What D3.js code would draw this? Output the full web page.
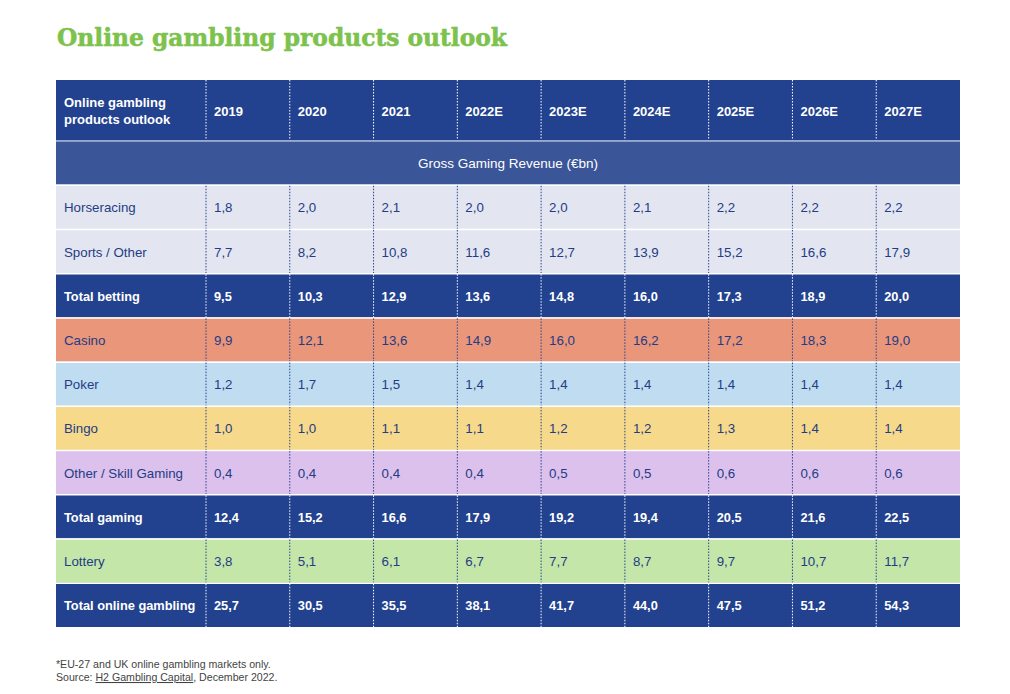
<!DOCTYPE html>
<html><head><meta charset="utf-8">
<script src="https://cdn.jsdelivr.net/npm/d3@7"></script>
<style>
html,body{margin:0;padding:0;background:#fff;}
svg{display:block;}
</style></head>
<body>
<svg id="chart" width="1010" height="694"></svg>
<script>
const years = ["2019","2020","2021","2022E","2023E","2024E","2025E","2026E","2027E"];
const rowLabels = ["Horseracing","Sports / Other","Total betting","Casino","Poker","Bingo","Other / Skill Gaming","Total gaming","Lottery","Total online gambling"];
const horseracing = [1.8,2.0,2.1,2.0,2.0,2.1,2.2,2.2,2.2];
const sportsOther = [7.7,8.2,10.8,11.6,12.7,13.9,15.2,16.6,17.9];
const totalBetting = [9.5,10.3,12.9,13.6,14.8,16.0,17.3,18.9,20.0];
const casino = [9.9,12.1,13.6,14.9,16.0,16.2,17.2,18.3,19.0];
const poker = [1.2,1.7,1.5,1.4,1.4,1.4,1.4,1.4,1.4];
const bingo = [1.0,1.0,1.1,1.1,1.2,1.2,1.3,1.4,1.4];
const otherSkill = [0.4,0.4,0.4,0.4,0.5,0.5,0.6,0.6,0.6];
const totalGaming = [12.4,15.2,16.6,17.9,19.2,19.4,20.5,21.6,22.5];
const lottery = [3.8,5.1,6.1,6.7,7.7,8.7,9.7,10.7,11.7];
const totalOnline = [25.7,30.5,35.5,38.1,41.7,44.0,47.5,51.2,54.3];
const seriesValues = [horseracing,sportsOther,totalBetting,casino,poker,bingo,otherSkill,totalGaming,lottery,totalOnline];
const rowFills = ["#e3e6f0","#e3e6f0","#22418e","#e9967a","#bfdcf1","#f6d98b","#dcc1ed","#22418e","#c4e6a9","#22418e"];
const rowBold = [false,false,true,false,false,false,false,true,false,true];

const svg = d3.select("#chart");
const font = "'Liberation Sans', Arial, sans-serif";
const dark = "#22418e";
const textDark = "#233c85";

// title
const title = svg.append("text").attr("x",57).attr("y",46)
  .attr("font-family","'DejaVu Serif', serif").attr("font-weight","bold")
  .attr("font-size",25).attr("fill","#7dc24c").attr("stroke","#7dc24c").attr("stroke-width",0.6)
  .text("Online gambling products outlook");
title.attr("textLength",450).attr("lengthAdjust","spacingAndGlyphs");

const left = 56, right = 960, firstColRight = 206;
const x = d3.scaleBand().domain(years).range([firstColRight, right]);
const headerTop = 80, headerBottom = 140.5;
const allRows = ["gross"].concat(rowLabels);
const y = d3.scaleBand().domain(allRows).range([headerBottom, 627]);

// header
svg.append("rect").attr("x",left).attr("y",headerTop).attr("width",right-left).attr("height",headerBottom-headerTop).attr("fill",dark);
const ht = svg.append("text").attr("font-family",font).attr("font-weight","bold").attr("font-size",13).attr("fill","#fff");
ht.append("tspan").attr("x",64).attr("y",107).text("Online gambling");
ht.append("tspan").attr("x",64).attr("y",124).text("products outlook");
svg.selectAll(".yh").data(years).join("text")
  .attr("x",d=>x(d)+8).attr("y",115.5)
  .attr("font-family",font).attr("font-weight","bold").attr("font-size",13).attr("fill","#fff")
  .text(d=>d);
svg.selectAll(".hl").data(years).join("line")
  .attr("x1",d=>x(d)).attr("x2",d=>x(d)).attr("y1",headerTop).attr("y2",headerBottom)
  .attr("stroke","#fff").attr("stroke-width",1).attr("stroke-dasharray","1.5,1.5");

// gross row
svg.append("rect").attr("x",left).attr("y",y("gross")).attr("width",right-left).attr("height",y.bandwidth()).attr("fill","#3a5698");
svg.append("line").attr("x1",left).attr("x2",right).attr("y1",headerBottom+0.5).attr("y2",headerBottom+0.5).attr("stroke","#a9b7d8").attr("stroke-width",1.5);
svg.append("text").attr("x",(left+right)/2).attr("y",y("gross")+y.bandwidth()/2+5)
  .attr("text-anchor","middle").attr("font-family",font).attr("font-size",13.5).attr("fill","#fff")
  .text("Gross Gaming Revenue (€bn)");

const fmt = v => v.toFixed(1).replace(".",",");

rowLabels.forEach((lab,i)=>{
  const ry = y(lab), h = y.bandwidth();
  const isDark = rowFills[i] === dark;
  const tc = isDark ? "#fff" : textDark;
  const fs = rowBold[i] ? 12.8 : 13.3;
  const g = svg.append("g");
  g.append("rect").attr("x",left).attr("y",ry).attr("width",right-left).attr("height",h).attr("fill",rowFills[i]);
  g.append("line").attr("x1",left).attr("x2",right).attr("y1",ry+0.5).attr("y2",ry+0.5).attr("stroke","#fff").attr("stroke-width",1.5);
  g.append("text").attr("x",64).attr("y",ry+h/2+5.5)
    .attr("font-family",font).attr("font-weight",rowBold[i]?"bold":"normal").attr("font-size",fs).attr("fill",tc).text(lab);
  g.selectAll(".v").data(seriesValues[i]).join("text")
    .attr("x",(d,j)=>x(years[j])+8).attr("y",ry+h/2+5.5)
    .attr("font-family",font).attr("font-weight",rowBold[i]?"bold":"normal").attr("font-size",fs).attr("fill",tc)
    .text(d=>fmt(d));
  g.selectAll(".dl").data(years).join("line")
    .attr("x1",d=>x(d)).attr("x2",d=>x(d)).attr("y1",ry+1).attr("y2",ry+h)
    .attr("stroke",isDark?"#fff":"#2a4590").attr("stroke-width",1).attr("stroke-dasharray","1.5,1.5");
});

// footnote
const fn = svg.append("text").attr("font-family",font).attr("font-size",10.6).attr("fill","#444");
fn.append("tspan").attr("x",56).attr("y",668).text("*EU-27 and UK online gambling markets only.");
const f2 = svg.append("text").attr("x",56).attr("y",681).attr("font-family",font).attr("font-size",10.6).attr("fill","#444");
f2.append("tspan").text("Source: ");
f2.append("tspan").attr("text-decoration","underline").text("H2 Gambling Capital");
f2.append("tspan").text(", December 2022.");
</script>
</body></html>
